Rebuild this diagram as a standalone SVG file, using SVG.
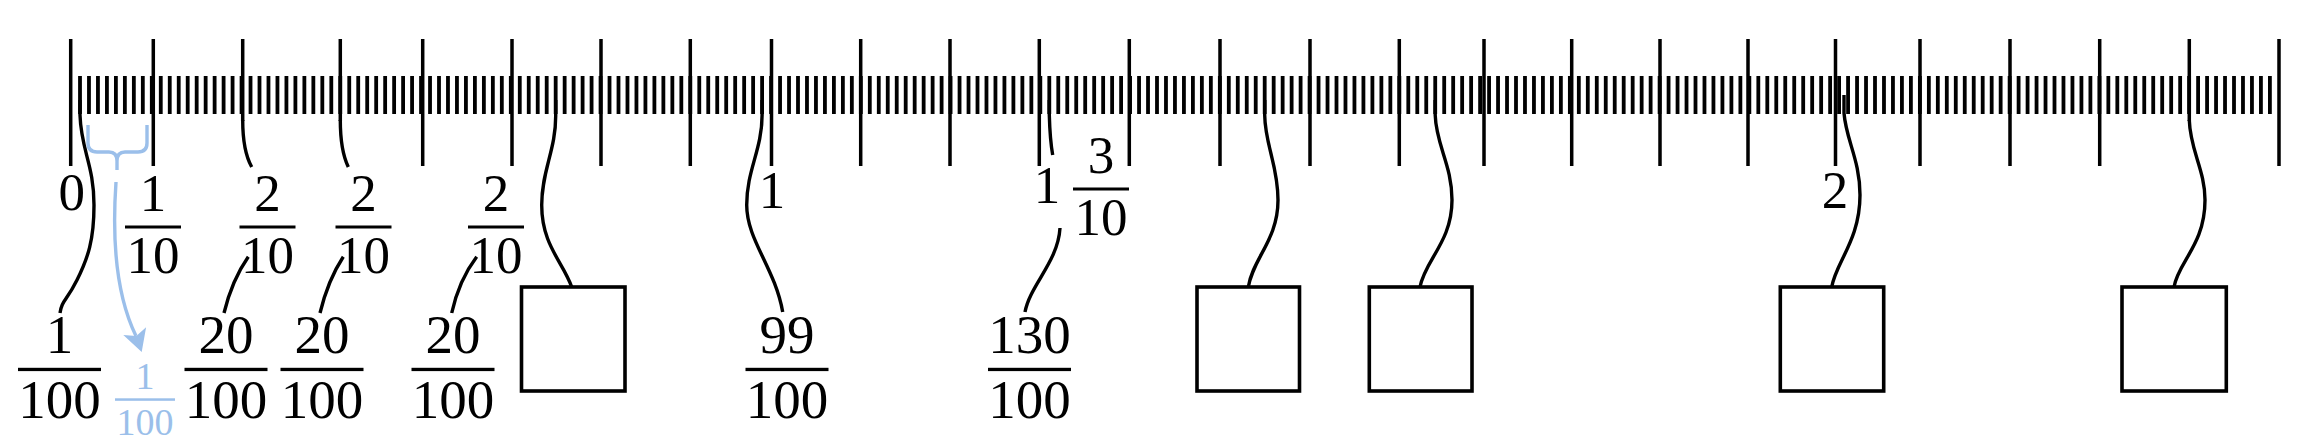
<svg xmlns="http://www.w3.org/2000/svg" width="2323" height="448" viewBox="0 0 2323 448">
<style>
.maj{stroke:#000;stroke-width:3.5;fill:none}
.con{fill:none;stroke:#000;stroke-width:3.4}
.box{fill:#fff;stroke:#000;stroke-width:3.6}
.bar{fill:#000}
.t{font-family:"Liberation Serif","DejaVu Serif",serif;font-size:53px;text-anchor:middle;fill:#000}
.tb{font-size:55px}
.blue{fill:#9bbfea}
.bl{fill:none;stroke:#9bbfea;stroke-width:3.4}
.ts{font-size:38px;fill:#9bbfea}
</style>
<rect x="0" y="0" width="2323" height="448" fill="#fff"/>
<g id="ruler">
  <line x1="78.1" y1="95" x2="2271.9" y2="95" stroke="#000" stroke-width="38" stroke-dasharray="3.8 5.175"/>
  <path class="maj" d="M70.7,39V166 M153.3,39V166 M242.7,39V121 M340.3,39V121 M422.7,39V166 M512,39V166 M601,39V166 M690.3,39V166 M771.5,39V166 M860.7,39V166 M950,39V166 M1039.3,39V166 M1129.3,39V166 M1220,39V166 M1310,39V166 M1399.3,39V166 M1484,39V166 M1571.7,39V166 M1660,39V166 M1748,39V166 M1835.5,39V166 M1920,39V166 M2010,39V166 M2099.7,39V166 M2189.3,39V121 M2279,39V166"/>
</g>
<g id="connectors">
  <path class="con" d="M80,100 L80,115 C81,150 94,165 94,205 C94,240 88,258 77,280 C66,302 62,300 60,313"/>
  <path class="con" d="M224,313 Q232,280 248.3,256.7"/>
  <path class="con" d="M320,313 Q328,280 343.3,256.7"/>
  <path class="con" d="M451.7,313 Q459,280 476.7,256.7"/>
  <path class="con" d="M242.7,120 C242.7,140 245,155 251.7,167"/>
  <path class="con" d="M340.3,120 C340.3,140 342.5,155 348.3,167"/>
  <path class="con" d="M555.7,100 L555.7,115 C556,150 541.7,170 541.7,205 C541.7,245 563,262 571.7,287"/>
  <path class="con" d="M762.1,100 L762.1,115 C762,150 746.7,170 746.7,205 C746.7,240 775,268 782.7,312"/>
  <path class="con" d="M1025,312 C1030,285 1058,262 1060,228"/>
  <path class="con" d="M1049.3,100 L1049.3,115 Q1050,140 1052.7,155"/>
  <path class="con" d="M1264.7,100 L1264.7,115 C1265,145 1278,165 1278,200 C1278,240 1253,258 1248.3,287"/>
  <path class="con" d="M1435.2,100 L1435.2,115 C1436,145 1452,165 1452,200 C1452,242 1425,260 1420,287"/>
  <path class="con" d="M1844,95 L1844,113 C1846,140 1860,160 1860,195 C1860,240 1836,262 1831.7,287"/>
  <path class="con" d="M2189.3,120 C2190,150 2205,170 2205,200 C2205,245 2178,262 2174,287"/>
  <path class="bl" d="M88,125 L88,143 Q88,152 97,152 L109,152 Q117,152 117,161 L117,170 M117,161 Q117,152 125,152 L138,152 Q147,152 147,143 L147,125"/>
  <path class="bl" d="M116,182 C112,240 116,295 136,336"/>
  <path class="blue" d="M141.7,352 L123.3,334.9 L136.3,335.9 L146.1,327.3 Z"/>
</g>
<g id="label-0"><text class="t" x="71.7" y="210">0</text></g>
<g id="label-1-10">
  <text class="t" x="153" y="211">1</text><rect class="bar" x="125" y="225.5" width="56" height="3"/><text class="t" x="153" y="273">10</text>
</g>
<g id="label-2-10-a">
  <text class="t" x="267.5" y="211">2</text><rect class="bar" x="239.5" y="225.5" width="56" height="3"/><text class="t" x="267.5" y="273">10</text>
</g>
<g id="label-2-10-b">
  <text class="t" x="363.5" y="211">2</text><rect class="bar" x="335.5" y="225.5" width="56" height="3"/><text class="t" x="363.5" y="273">10</text>
</g>
<g id="label-2-10-c">
  <text class="t" x="496" y="211">2</text><rect class="bar" x="468" y="225.5" width="56" height="3"/><text class="t" x="496" y="273">10</text>
</g>
<g id="label-1"><text class="t" x="772" y="208">1</text></g>
<g id="label-1-3-10">
  <text class="t" x="1047" y="203">1</text>
  <text class="t" x="1101" y="173">3</text><rect class="bar" x="1073" y="187.5" width="56" height="3"/><text class="t" x="1101" y="235">10</text>
</g>
<g id="label-2"><text class="t" x="1835" y="208">2</text></g>
<g id="label-1-100">
  <text class="t tb" x="59.5" y="353">1</text><rect class="bar" x="18" y="367.8" width="83" height="3.3"/><text class="t tb" x="59.5" y="418">100</text>
</g>
<g id="label-1-100-blue">
  <text class="t ts" x="145" y="389">1</text><rect class="blue" x="115" y="398.3" width="60" height="2.5"/><text class="t ts" x="145" y="435">100</text>
</g>
<g id="label-20-100-a">
  <text class="t tb" x="226" y="353">20</text><rect class="bar" x="184.5" y="367.8" width="83" height="3.3"/><text class="t tb" x="226" y="418">100</text>
</g>
<g id="label-20-100-b">
  <text class="t tb" x="322" y="353">20</text><rect class="bar" x="280.5" y="367.8" width="83" height="3.3"/><text class="t tb" x="322" y="418">100</text>
</g>
<g id="label-20-100-c">
  <text class="t tb" x="453" y="353">20</text><rect class="bar" x="411.5" y="367.8" width="83" height="3.3"/><text class="t tb" x="453" y="418">100</text>
</g>
<g id="label-99-100">
  <text class="t tb" x="787" y="353">99</text><rect class="bar" x="745.5" y="367.8" width="83" height="3.3"/><text class="t tb" x="787" y="418">100</text>
</g>
<g id="label-130-100">
  <text class="t tb" x="1029.5" y="353">130</text><rect class="bar" x="988" y="367.8" width="83" height="3.3"/><text class="t tb" x="1029.5" y="418">100</text>
</g>
<g id="box-1"><rect class="box" x="521.5" y="287" width="103.5" height="104"/></g>
<g id="box-2"><rect class="box" x="1197" y="287" width="102.5" height="104"/></g>
<g id="box-3"><rect class="box" x="1369.3" y="287" width="102.7" height="104"/></g>
<g id="box-4"><rect class="box" x="1780.3" y="287" width="103.4" height="104"/></g>
<g id="box-5"><rect class="box" x="2122" y="287" width="104.3" height="104"/></g>
</svg>
